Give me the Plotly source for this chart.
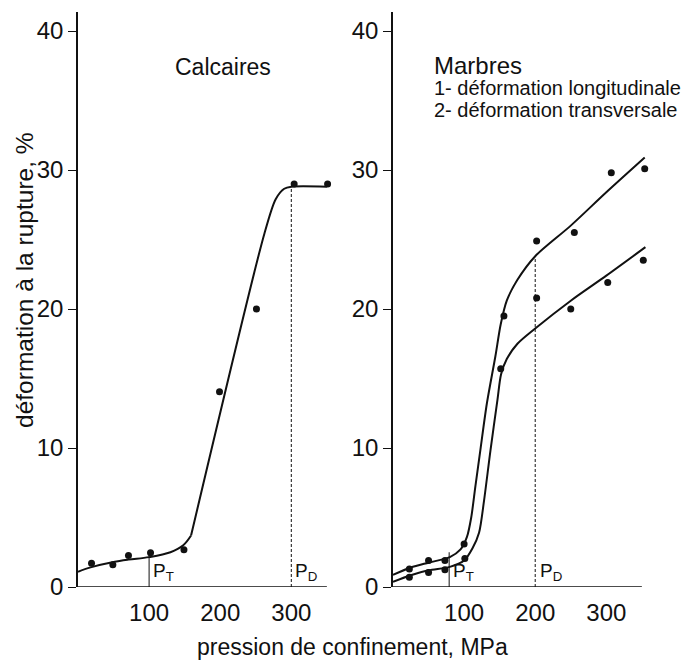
import plotly.graph_objects as go

# ---------------- data ----------------
# Left panel : Calcaires (measured points)
calc_x = [19, 49, 71, 102, 149, 199, 251, 304, 351]
calc_y = [1.7, 1.6, 2.27, 2.46, 2.68, 14.05, 20.0, 29.0, 29.0]
# fitted curve (hand-drawn) control points
calc_low_x = [0, 19, 50, 71, 100, 130, 148, 159]
calc_low_y = [1.1, 1.43, 1.8, 1.97, 2.15, 2.5, 3.0, 3.7]
calc_high_x = [159, 262, 278, 290, 300, 350]
calc_high_y = [3.7, 25.4, 27.9, 28.65, 28.8, 28.8]
calc_PT, calc_PD = 100, 300

# Right panel : Marbres
marb1_x = [23, 50, 73, 100, 156, 202, 255, 307, 354]
marb1_y = [1.3, 1.9, 1.9, 3.1, 19.5, 24.9, 25.5, 29.8, 30.1]
marb2_x = [23, 50, 73, 101, 151.5, 202, 250, 302, 352]
marb2_y = [0.7, 1.05, 1.25, 2.05, 15.7, 20.8, 20.0, 21.9, 23.5]
m1_cx = [0, 25, 50, 80, 95, 104, 110, 116, 123, 132, 144, 151.5, 160, 175, 200, 250, 300, 354]
m1_cy = [0.87, 1.4, 1.75, 2.15, 2.7, 3.6, 5.0, 7.3, 9.9, 13.2, 16.6, 18.9, 20.6, 22.1, 23.8, 26.0, 28.4, 30.9]
m2_cx = [0, 25, 50, 80, 100, 112, 121, 128, 137, 147, 152, 160, 175, 200, 250, 300, 355]
m2_cy = [0.38, 0.85, 1.2, 1.45, 1.9, 2.8, 3.9, 6.2, 9.8, 13.5, 15.3, 16.4, 17.5, 18.6, 20.6, 22.4, 24.45]
marb_PT, marb_PD = 79, 200

x_ticks = [100, 200, 300]
y_ticks = [0, 10, 20, 30, 40]

# ---------------- figure ----------------
TXT = "Liberation Sans, Arial, sans-serif"
NUM = "Liberation Sans, Arial, sans-serif"
INK = "#111111"

fig = go.Figure()

def curve(x, y, xa, ya, sm=1.0):
    fig.add_trace(go.Scatter(x=x, y=y, mode="lines", xaxis=xa, yaxis=ya,
                             line=dict(color=INK, width=2, shape="spline", smoothing=sm),
                             hoverinfo="skip", showlegend=False))

def pts(x, y, xa, ya):
    fig.add_trace(go.Scatter(x=x, y=y, mode="markers", xaxis=xa, yaxis=ya, cliponaxis=False,
                             marker=dict(color=INK, size=7), showlegend=False))

curve(calc_low_x, calc_low_y, "x", "y")
curve(calc_high_x, calc_high_y, "x", "y", 0.8)
pts(calc_x, calc_y, "x", "y")
curve(m1_cx, m1_cy, "x2", "y2", 0.8)
curve(m2_cx, m2_cy, "x2", "y2", 0.8)
pts(marb1_x, marb1_y, "x2", "y2")
pts(marb2_x, marb2_y, "x2", "y2")

XR = [0, 362]
YR = [0, 41.37]
axis_common = dict(showgrid=False, zeroline=False, color=INK)
xt = dict(tickvals=x_ticks, ticks="outside", ticklen=4, tickcolor="rgba(0,0,0,0)", showline=False,
          tickfont=dict(family=NUM, size=24, color=INK), range=XR)
yt = dict(domain=[0, 1], range=YR, tickvals=y_ticks, ticks="outside", ticklen=8, tickwidth=1.2,
          showline=True, linewidth=1.5, linecolor=INK, tickcolor=INK,
          tickfont=dict(family=NUM, size=24, color=INK))
fig.update_layout(
    width=686, height=664,
    margin=dict(l=0, r=0, t=12, b=77),
    paper_bgcolor="white", plot_bgcolor="white",
    xaxis=dict(domain=[78/686, 335.4/686], anchor="y", **xt, **axis_common),
    yaxis=dict(anchor="x", **yt, **axis_common),
    xaxis2=dict(domain=[393/686, 650.4/686], anchor="y2", **xt, **axis_common),
    yaxis2=dict(anchor="x2", **yt, **axis_common),
)

shapes = []
for xr, yr in (("x", "y"), ("x2", "y2")):
    shapes.append(dict(type="line", xref=xr, yref=yr, x0=0, x1=350, y0=0, y1=0,
                       line=dict(color=INK, width=1.5)))
# PT / PD markers
shapes.append(dict(type="line", xref="x", yref="y", x0=calc_PT, x1=calc_PT, y0=-0.7, y1=2.4,
                   line=dict(color=INK, width=1)))
shapes.append(dict(type="line", xref="x", yref="y", x0=calc_PD, x1=calc_PD, y0=0, y1=28.8,
                   line=dict(color=INK, width=1, dash="3px,2px")))
shapes.append(dict(type="line", xref="x2", yref="y2", x0=marb_PT, x1=marb_PT, y0=0, y1=2.5,
                   line=dict(color=INK, width=1)))
shapes.append(dict(type="line", xref="x2", yref="y2", x0=marb_PD, x1=marb_PD, y0=0, y1=23.8,
                   line=dict(color=INK, width=1, dash="3px,2px")))
fig.update_layout(shapes=shapes)

ann = []
def note(text, x, y, xr, yr, size, xanchor="left", yanchor="middle", font=TXT, angle=0):
    ann.append(dict(text=text, x=x, y=y, xref=xr, yref=yr, showarrow=False, xanchor=xanchor,
                    yanchor=yanchor, textangle=angle, font=dict(family=font, size=size, color=INK)))

note("P<sub>T</sub>", calc_PT + 3, 0.1, "x", "y", 19, yanchor="bottom")
note("P<sub>D</sub>", calc_PD + 2, 0.1, "x", "y", 19, yanchor="bottom")
note("P<sub>T</sub>", marb_PT + 2, 0.1, "x2", "y2", 19, yanchor="bottom")
note("P<sub>D</sub>", marb_PD + 4, 0.1, "x2", "y2", 19, yanchor="bottom")
note("Calcaires", 204, 37.4, "x", "y", 23, xanchor="center")
note("Marbres", 55, 37.5, "x2", "y2", 24)
note("1- déformation longitudinale", 55, 35.9, "x2", "y2", 20)
note("2- déformation transversale", 55, 34.3, "x2", "y2", 20)
note("1", 376, 30.8, "x2", "y2", 20)
note("2", 379, 24.7, "x2", "y2", 20)
note("pression de confinement, MPa", 352/686, -0.104, "paper", "paper", 23, xanchor="center")
note("déformation à la rupture, %", 25/686, 0.534, "paper", "paper", 24.5, xanchor="center", angle=-90)
fig.update_layout(annotations=ann)

fig.write_html("out.html")
